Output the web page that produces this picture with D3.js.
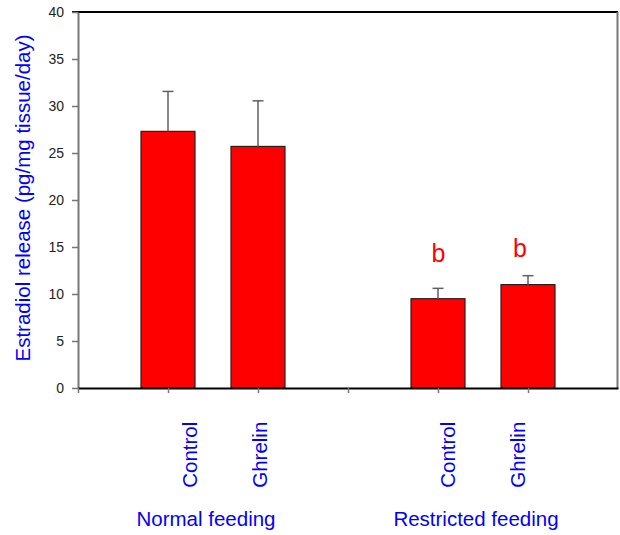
<!DOCTYPE html>
<html>
<head>
<meta charset="utf-8">
<script src="https://cdn.jsdelivr.net/npm/d3@7"></script>
<style>
  html, body { margin: 0; padding: 0; background: #fff; }
  svg { display: block; font-family: "Liberation Sans", Arial, sans-serif; }
</style>
</head>
<body>
<svg id="chart" width="620" height="535"></svg>
<script>
// ---- data ----
const categories = ["Control", "Ghrelin", "Control", "Ghrelin"];
const groups = ["Normal feeding", "Restricted feeding"];
const groupOf = [0, 0, 1, 1];
const slotIndex = [1, 2, 4, 5];          // position along the category axis
const values = [27.3, 25.7, 9.5, 11.0];
const sem = [4.25, 4.85, 1.1, 0.95];
const letters = ["", "", "b", "b"];
const letterLevel = [0, 0, 13.4, 13.9];  // y-value where letter baseline sits
const yTicks = [0, 5, 10, 15, 20, 25, 30, 35, 40];
const yLabel = "Estradiol release (pg/mg tissue/day)";

// ---- layout ----
const L = 78, R = 618, T = 12, B = 388;
const barW = 54;
const catLabelDx = [29.3, 8.7, 17, -3];   // baseline offset of rotated labels
const letterDx = [0, 0, 0.5, -8];

const svg = d3.select("#chart");
const x = d3.scaleLinear().domain([0, 6]).range([L, R]);
const y = d3.scaleLinear().domain([0, 40]).range([B, T]);

// bars
svg.append("g").selectAll("rect").data(values).join("rect")
  .attr("x", (d, i) => x(slotIndex[i]) - barW / 2)
  .attr("y", d => y(d))
  .attr("width", barW)
  .attr("height", d => y(0) - y(d))
  .attr("fill", "#ff0000")
  .attr("stroke", "#222")
  .attr("stroke-width", 1.2);

// error bars
const eb = svg.append("g").attr("stroke", "#606060").attr("stroke-width", 1.5);
values.forEach((v, i) => {
  const cx = x(slotIndex[i]);
  eb.append("line").attr("x1", cx).attr("x2", cx).attr("y1", y(v)).attr("y2", y(v + sem[i]));
  eb.append("line").attr("x1", cx - 5.5).attr("x2", cx + 5.5).attr("y1", y(v + sem[i])).attr("y2", y(v + sem[i]));
});

// frame: top (black) and right (grey)
svg.append("line").attr("x1", L - 6).attr("x2", R).attr("y1", T).attr("y2", T)
  .attr("stroke", "#000").attr("stroke-width", 2);
svg.append("line").attr("x1", R - 0.5).attr("x2", R - 0.5).attr("y1", T).attr("y2", B)
  .attr("stroke", "#777").attr("stroke-width", 2);

// y axis
const yAxis = d3.axisLeft(y).tickValues(yTicks).tickSize(6).tickPadding(8).tickSizeOuter(0);
const gy = svg.append("g").attr("transform", `translate(${L},0)`).call(yAxis);
gy.select(".domain").attr("stroke", "#777").attr("stroke-width", 2);
gy.selectAll(".tick line").attr("stroke", "#777").attr("stroke-width", 1.5);
gy.selectAll(".tick text").attr("font-size", "14px").attr("fill", "#222")
  .attr("font-family", "Liberation Sans, Arial, sans-serif");

// x axis
const xAxis = d3.axisBottom(x).tickValues([0, 1, 2, 3, 4, 5]).tickSize(5).tickFormat("").tickSizeOuter(0);
const gx = svg.append("g").attr("transform", `translate(0,${B})`).call(xAxis);
gx.select(".domain").attr("stroke", "#000").attr("stroke-width", 2);
gx.selectAll(".tick line").attr("stroke", "#777").attr("stroke-width", 1.5);

// category labels (rotated)
svg.append("g").selectAll("text").data(categories).join("text")
  .attr("transform", (d, i) => `translate(${x(slotIndex[i]) + catLabelDx[i]},421.7) rotate(-90)`)
  .attr("text-anchor", "end")
  .attr("font-size", "20.5px")
  .attr("fill", "#0000ff")
  .text(d => d);

// group labels
svg.append("g").selectAll("text").data(groups).join("text")
  .attr("x", (d, gi) => {
    const idx = slotIndex.filter((s, i) => groupOf[i] === gi);
    return d3.mean(idx.map(s => x(s))) - 7;
  })
  .attr("y", 525.7)
  .attr("text-anchor", "middle")
  .attr("font-size", "20.5px")
  .attr("fill", "#0000ff")
  .text(d => d);

// significance letters
svg.append("g").selectAll("text").data(letters).join("text")
  .attr("x", (d, i) => x(slotIndex[i]) + letterDx[i])
  .attr("y", (d, i) => y(letterLevel[i]))
  .attr("text-anchor", "middle")
  .attr("font-size", "25px")
  .attr("fill", "#ff0000")
  .text(d => d);

// y axis title
svg.append("text")
  .attr("transform", `translate(30,198) rotate(-90)`)
  .attr("text-anchor", "middle")
  .attr("font-size", "20.5px")
  .attr("fill", "#0000ff")
  .text(yLabel);
</script>
</body>
</html>
